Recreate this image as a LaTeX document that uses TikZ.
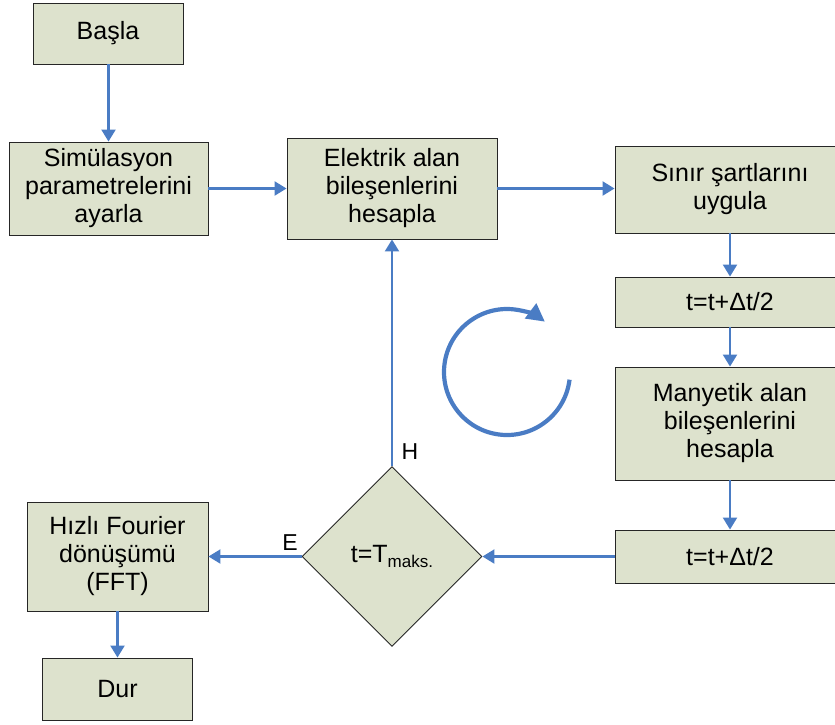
\documentclass[tikz,border=0pt]{standalone}
\usepackage{fontspec}
\setmainfont{Liberation Sans}
\usetikzlibrary{arrows.meta,shapes.geometric}
\definecolor{boxfill}{HTML}{DDE2CD}
\definecolor{arrowblue}{HTML}{4A7CC4}
\begin{document}
\begin{tikzpicture}[x=1pt,y=-1pt,
 box/.style={draw=black!85, line width=0.9pt, fill=boxfill, inner sep=0pt, align=center, font=\fontsize{25}{28}\selectfont},
 decision/.style={diamond, shape aspect=1, draw=black!85, line width=0.9pt, fill=boxfill, inner sep=0pt, minimum width=180pt, minimum height=180pt, font=\fontsize{25}{28}\selectfont},
 flow/.style={draw=arrowblue, line width=2.2pt, -{Triangle[length=12pt,width=14pt]}},
 lbl/.style={font=\fontsize{23}{26}\selectfont, inner sep=0pt}]
\clip (0,0) rectangle (835,724);
\node[box, minimum width=150pt, minimum height=61pt] (start) at (108,33.5) {Başla};
\node[box, minimum width=199pt, minimum height=93pt] (sim) at (108.5,188.5) {Simülasyon\\parametrelerini\\ayarla};
\node[box, minimum width=210pt, minimum height=101pt] (elek) at (392,188.5) {Elektrik alan\\bileşenlerini\\hesapla};
\node[box, minimum width=230pt, minimum height=87pt] (sinir) at (730,189.5) {Sınır şartlarını\\uygula};
\node[box, minimum width=230pt, minimum height=50pt] (t1) at (730,302) {t=t+Δt/2};
\node[box, minimum width=230pt, minimum height=113pt] (manye) at (730,423.5) {Manyetik alan\\bileşenlerini\\hesapla};
\node[box, minimum width=230pt, minimum height=53pt] (t2) at (730,556.5) {t=t+Δt/2};
\node[decision] (dec) at (392,556.5) {t=T\raisebox{-0.35ex}{\fontsize{17}{18}\selectfont maks.}};
\node[box, minimum width=181pt, minimum height=109pt] (fft) at (117.5,556.5) {Hızlı Fourier\\dönüşümü\\(FFT)};
\node[box, minimum width=150pt, minimum height=62pt] (dur) at (117.5,689) {Dur};
\draw[flow] (start.south -| sim) -- (sim);
\draw[flow] (sim) -- (elek);
\draw[flow] (elek.east) -- (sinir.west |- elek.east);
\draw[flow] (sinir.south -| t1) -- (t1);
\draw[flow] (t1) -- (manye);
\draw[flow] (manye) -- (t2);
\draw[flow] (t2.west) -- (dec.east);
\draw[flow] (dec.west) -- (fft.east |- dec.west);
\draw[flow] (dec.north) -- (elek.south);
\draw[flow] (fft.south) -- (dur.north);
\node[lbl] (hlab) at (410,452) {H};
\node[lbl] (elab) at (290,543) {E};
\coordinate (cyc) at (507,372);
\draw[arrowblue, line width=4.2pt, -{Triangle[length=18pt,width=18pt]}] (cyc) ++(7:63) arc[start angle=7, end angle=307, radius=63];
\end{tikzpicture}
\end{document}
